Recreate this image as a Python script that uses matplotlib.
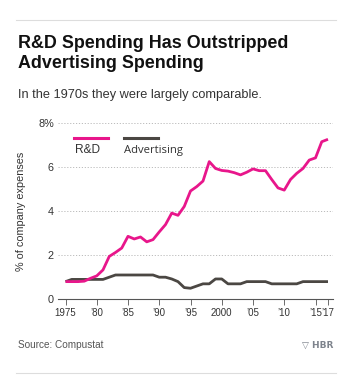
import matplotlib.pyplot as plt
from matplotlib.lines import Line2D

# data (% of company expenses)
YEARS = list(range(1975, 2018))
RND = [0.80, 0.80, 0.80, 0.82, 0.95, 1.06, 1.33, 1.94, 2.12, 2.32,
	2.85, 2.73, 2.82, 2.60, 2.70, 3.05, 3.38, 3.90, 3.80, 4.20,
	4.90, 5.10, 5.35, 6.23, 5.92, 5.83, 5.80, 5.73, 5.63, 5.75,
	5.90, 5.82, 5.82, 5.42, 5.04, 4.94, 5.42, 5.70, 5.92, 6.30,
	6.40, 7.13, 7.24]
ADV = [0.80, 0.90, 0.90, 0.90, 0.90, 0.90, 0.90, 1.00, 1.10, 1.10,
	1.10, 1.10, 1.10, 1.10, 1.10, 1.00, 1.00, 0.92, 0.80, 0.53,
	0.50, 0.60, 0.70, 0.70, 0.92, 0.92, 0.70, 0.70, 0.70, 0.80,
	0.80, 0.80, 0.80, 0.70, 0.70, 0.70, 0.70, 0.70, 0.80, 0.80,
	0.80, 0.80, 0.80]
XTICKS = [1975, 1980, 1985, 1990, 1995, 2000, 2005, 2010, 2015, 2017]
XLABELS = ["1975", "\u201980", "\u201985", "\u201990", "\u201995", "2000",
	"\u201905", "\u201910", "\u201915", "\u201917"]
YTICKS = [0, 2, 4, 6, 8]
YLABELS = ["0", "2", "4", "6", "8%"]

PINK = "#e8168b"
GRAY = "#4b4743"
NARROW = ["Liberation Sans Narrow", "Liberation Sans", "DejaVu Sans"]
SANS = ["Liberation Sans", "DejaVu Sans"]

W, H = 363, 382
fig = plt.figure(figsize = (W / 100, H / 100), dpi = 100)
ax = fig.add_axes([58 / W, 1 - 299.3 / H, (333 - 58) / W, (299.3 - 122.5) / H])

ax.plot(YEARS, ADV, color = GRAY, lw = 2.0, solid_capstyle = "butt", zorder = 3)
ax.plot(YEARS, RND, color = PINK, lw = 2.0, solid_capstyle = "butt", zorder = 4)

ax.set_xlim(1973.8, 2017.8)
ax.set_ylim(0, 8)
for s in ["top", "right", "left"]:
	ax.spines[s].set_visible(False)
ax.spines["bottom"].set_color("#555555")
ax.spines["bottom"].set_linewidth(0.8)
ax.set_yticks(YTICKS)
ax.set_yticklabels(YLABELS, family = NARROW, fontsize = 7.8, color = "#333333")
ax.set_xticks(XTICKS)
ax.set_xticklabels(XLABELS, family = NARROW, fontsize = 7.0, color = "#333333")
ax.tick_params(axis = "y", length = 0, pad = 3)
ax.tick_params(axis = "x", length = 4, width = 0.6, color = "#555555", pad = 2)
for v in YTICKS[1:]:
	ax.axhline(v, color = "#bbbbbb", lw = 0.7, ls = (0, (1.2, 1.8)), zorder = 1)
ax.set_ylabel("% of company expenses", family = NARROW, fontsize = 7.8,
	color = "#333333", labelpad = 9)

# legend drawn by hand, as in the original
fig.add_artist(Line2D([74 / W, 108 / W], [1 - 138.5 / H] * 2, color = PINK, lw = 2.2))
fig.add_artist(Line2D([124 / W, 158 / W], [1 - 138.5 / H] * 2, color = GRAY, lw = 2.2))
fig.text(75 / W, 1 - 150 / H, "R&D", family = NARROW, fontsize = 8.6,
	color = "#333333", va = "center")
fig.text(124 / W, 1 - 150 / H, "Advertising", family = ["Open Sans", "DejaVu Sans"],
	fontsize = 8.1, color = "#333333", va = "center")

# header and footer
fig.add_artist(Line2D([16 / W, 336 / W], [1 - 20 / H] * 2, color = "#dddddd", lw = 0.8))
fig.text(18 / W, 1 - 43 / H, "R&D Spending Has Outstripped", family = SANS,
	fontsize = 12.9, fontweight = "bold", color = "#111111", va = "center")
fig.text(18 / W, 1 - 63 / H, "Advertising Spending", family = SANS,
	fontsize = 12.9, fontweight = "bold", color = "#111111", va = "center")
fig.text(18 / W, 1 - 95 / H, "In the 1970s they were largely comparable.",
	family = SANS, fontsize = 9.2, color = "#333333", va = "center")
fig.text(18 / W, 1 - 345 / H, "Source: Compustat", family = NARROW,
	fontsize = 7.2, color = "#555555", va = "center")
fig.text(333 / W, 1 - 345 / H, "\u25bd HBR", fontsize = 6.5, fontweight = "bold",
	color = "#7d838c", va = "center", ha = "right")
fig.add_artist(Line2D([16 / W, 336 / W], [1 - 373 / H] * 2, color = "#dddddd", lw = 0.8))

fig.savefig("out.png", dpi = 100)
